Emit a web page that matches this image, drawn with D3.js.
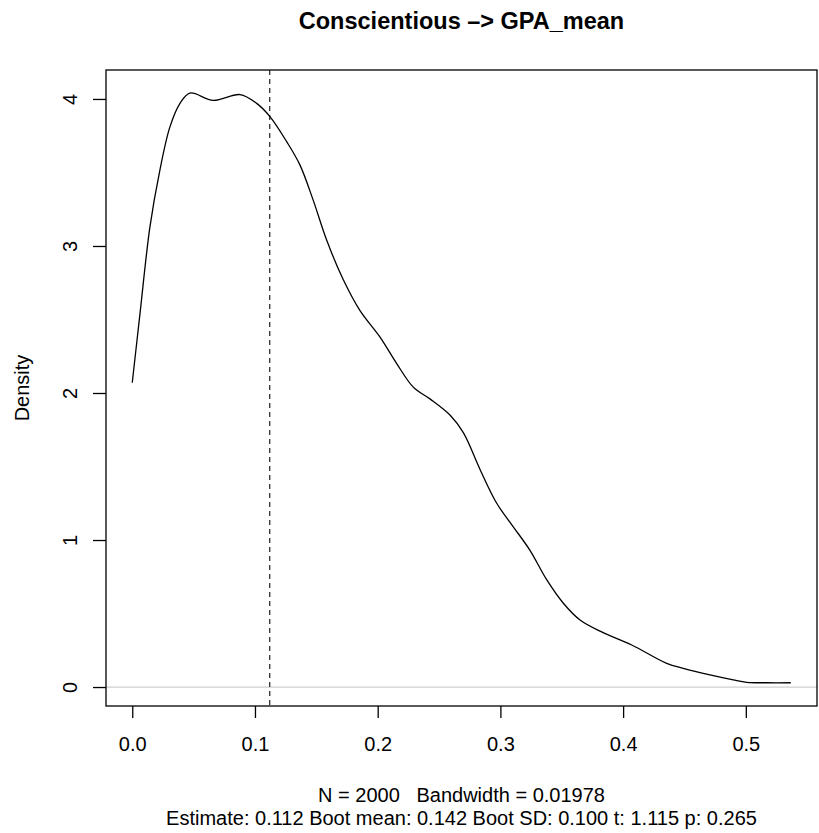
<!DOCTYPE html>
<head>
  <meta charset="utf-8">
  <script src="https://d3js.org/d3.v7.min.js"></script>
  <style>
  body,html {margin:0; background:#fff; font-family:"Liberation Sans", Arial, Helvetica, sans-serif;}
  </style>
</head>

<body>
  <script>

    const width = 819;
    const height = 833;

    // density curve
    const densX = [0, 0.0063, 0.0144, 0.0226, 0.0307, 0.0389, 0.047, 0.066, 0.0878, 0.1014, 0.1122,
      0.1258, 0.1367, 0.1475, 0.1584, 0.172, 0.1856, 0.2019, 0.2155, 0.229, 0.2426, 0.2589, 0.2698,
      0.2834, 0.297, 0.3105, 0.3241, 0.3377, 0.3513, 0.3649, 0.3825, 0.407, 0.4355, 0.449, 0.4708,
      0.4898, 0.5007, 0.517, 0.5366];
    const densY = [2.07, 2.54, 3.13, 3.52, 3.81, 3.97, 4.04, 3.99, 4.03, 3.97, 3.88,
      3.71, 3.55, 3.31, 3.04, 2.77, 2.56, 2.38, 2.20, 2.04, 1.96, 1.85, 1.73,
      1.48, 1.25, 1.09, 0.93, 0.73, 0.57, 0.456, 0.375, 0.286, 0.161, 0.127, 0.082,
      0.048, 0.032, 0.029, 0.029];

    const xTicks = [0, 0.1, 0.2, 0.3, 0.4, 0.5];
    const yTicks = [0, 1, 2, 3, 4];
    const estimate = 0.112;

    const title = "Conscientious \u2013> GPA_mean";
    const yLabel = "Density";
    const footer1 = "N = 2000   Bandwidth = 0.01978";
    const footer2 = "Estimate: 0.112 Boot mean: 0.142 Boot SD: 0.100 t: 1.115 p: 0.265";

    const L = 106, R = 817, T = 70, B = 706;
    const FONT = "Liberation Sans, Arial, Helvetica, sans-serif";

    let x = d3.scaleLinear().domain([-0.0214, 0.558]).range([L, R]);
    let y = d3.scaleLinear().domain([-0.129, 4.197]).range([B, T]);

    var svg = d3.select("body").append("svg")
      .attr("width", width)
      .attr("height", height)
      .style("font-family", FONT);

    // zero line
    svg.append("line")
      .attr("x1", L).attr("x2", R)
      .attr("y1", y(0)).attr("y2", y(0))
      .attr("stroke", "#cfcfcf").attr("stroke-width", 1.3);

    // estimate line
    svg.append("line")
      .attr("x1", x(estimate)).attr("x2", x(estimate))
      .attr("y1", T).attr("y2", B)
      .attr("stroke", "#333").attr("stroke-width", 1.3)
      .attr("stroke-dasharray", "5,4");

    const pts = densX.map((d, i) => [d, densY[i]]);
    svg.append("path")
      .datum(pts)
      .attr("fill", "none")
      .attr("stroke", "#000")
      .attr("stroke-width", 1.3)
      .attr("d", d3.line().x(d => x(d[0])).y(d => y(d[1])).curve(d3.curveCatmullRom.alpha(0.5)));

    // box
    svg.append("rect")
      .attr("x", L).attr("y", T)
      .attr("width", R - L).attr("height", B - T)
      .attr("fill", "none").attr("stroke", "#000").attr("stroke-width", 1.3);

    // x axis
    const xa = svg.append("g")
      .attr("transform", `translate(0,${B})`)
      .call(d3.axisBottom(x).tickValues(xTicks).tickFormat(d3.format(".1f")).tickSize(12));
    xa.select(".domain").remove();
    xa.selectAll("line").attr("stroke-width", 1.3);
    xa.selectAll("text")
      .attr("y", 45).attr("dy", null)
      .attr("font-size", 20).attr("font-family", FONT).attr("fill", "#000");

    // y axis, labels rotated like R
    const ya = svg.append("g")
      .attr("transform", `translate(${L},0)`)
      .call(d3.axisLeft(y).tickValues(yTicks).tickFormat(d3.format("d")).tickSize(13));
    ya.select(".domain").remove();
    ya.selectAll("line").attr("stroke-width", 1.3);
    ya.selectAll(".tick text")
      .attr("x", 0).attr("y", 0).attr("dy", null)
      .attr("text-anchor", "middle")
      .attr("transform", "translate(-29,0) rotate(-90)")
      .attr("font-size", 20).attr("font-family", FONT).attr("fill", "#000");

    const cx = (L + R) / 2;

    svg.append("text")
      .attr("x", cx).attr("y", 28.5)
      .attr("text-anchor", "middle")
      .attr("font-weight", "bold")
      .attr("font-size", 23.5)
      .text(title);

    svg.append("text")
      .attr("transform", `translate(29,${(T + B) / 2}) rotate(-90)`)
      .attr("text-anchor", "middle")
      .attr("font-size", 20)
      .text(yLabel);

    svg.append("text")
      .attr("x", cx).attr("y", 802)
      .attr("text-anchor", "middle")
      .attr("font-size", 20)
      .style("white-space", "pre")
      .text(footer1);

    svg.append("text")
      .attr("x", cx).attr("y", 825)
      .attr("text-anchor", "middle")
      .attr("font-size", 20)
      .text(footer2);

  </script>
</body>
